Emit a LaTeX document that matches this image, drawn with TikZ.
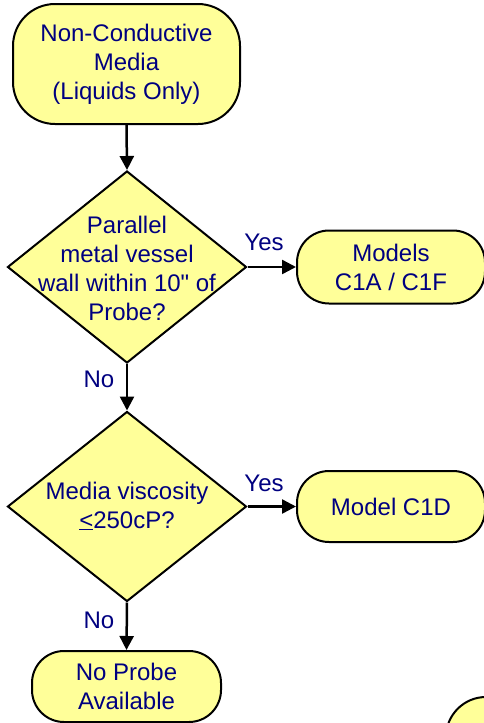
\documentclass[tikz,border=0pt]{standalone}
\usepackage{fontspec}
\setmainfont{Liberation Sans}
\newfontfamily\nomapfont{Liberation Sans}[Ligatures=TeXOff]
\usetikzlibrary{shapes.geometric,arrows.meta}
\definecolor{fillY}{RGB}{255,255,153}
\definecolor{txtB}{RGB}{0,0,128}
\tikzset{
  term/.style={draw=black, line width=2pt, fill=fillY, rounded corners=#1, inner sep=0pt},
  dec/.style={draw=black, line width=2pt, fill=fillY, shape=diamond, minimum width=239pt, minimum height=192pt, inner sep=0pt},
  txt/.style={text=txtB, font=\fontsize{24}{29}\selectfont, align=center, inner sep=0pt},
  lbl/.style={text=txtB, font=\fontsize{24}{29}\selectfont, inner sep=0pt},
  conn/.style={line width=2.5pt, -{Triangle[length=14pt,width=14pt]}}
}
\begin{document}
\begin{tikzpicture}[x=1pt,y=-1pt]
\useasboundingbox (0,0) rectangle (484,723);
\begin{scope}
\clip (0,0) rectangle (484,723);
% top terminator
\node[term=42pt, minimum width=227pt, minimum height=120pt] (start) at (126.5,64) {};
\node[txt] at (start) {Non-Conductive\\Media\\(Liquids Only)};
% diamond 1
\node[dec] (d1) at (127,267) {};
\node[txt] at (127,268) {Parallel\\metal vessel\\wall within 10{\nomapfont"} of\\Probe?};
% models C1A/C1F
\node[term=32pt, minimum width=188pt, minimum height=73pt] (m1) at (391,267) {};
\node[txt] at (m1) {Models\\C1A / C1F};
% diamond 2
\node[dec, minimum height=190pt] (d2) at (127,506.5) {};
\node[txt] at (127,506) {Media viscosity\\\underline{<}250cP?};
% model C1D
\node[term=32pt, minimum width=188pt, minimum height=71pt] (m2) at (391,506.5) {};
\node[txt] at (m2) {Model C1D};
% no probe
\node[term=32pt, minimum width=189pt, minimum height=71pt] (np) at (126.5,686.5) {};
\node[txt] at (np) {No Probe\\Available};
% partial shape bottom right
\node[term=40pt, minimum width=200pt, minimum height=90pt, anchor=north west] (extra) at (445,696) {};
\end{scope}
% connectors
\draw[conn] (start.south) -- (d1.north);
\draw[conn] (d1.east) -- (m1.west);
\draw[conn] (d1.south) -- (d2.north);
\draw[conn] (d2.east) -- (m2.west);
\draw[conn] (d2.south) -- (np.north);
% labels
\node[lbl] at (264,242) {Yes};
\node[lbl] at (99,379) {No};
\node[lbl] at (264,483) {Yes};
\node[lbl] at (99,620) {No};
\end{tikzpicture}
\end{document}
